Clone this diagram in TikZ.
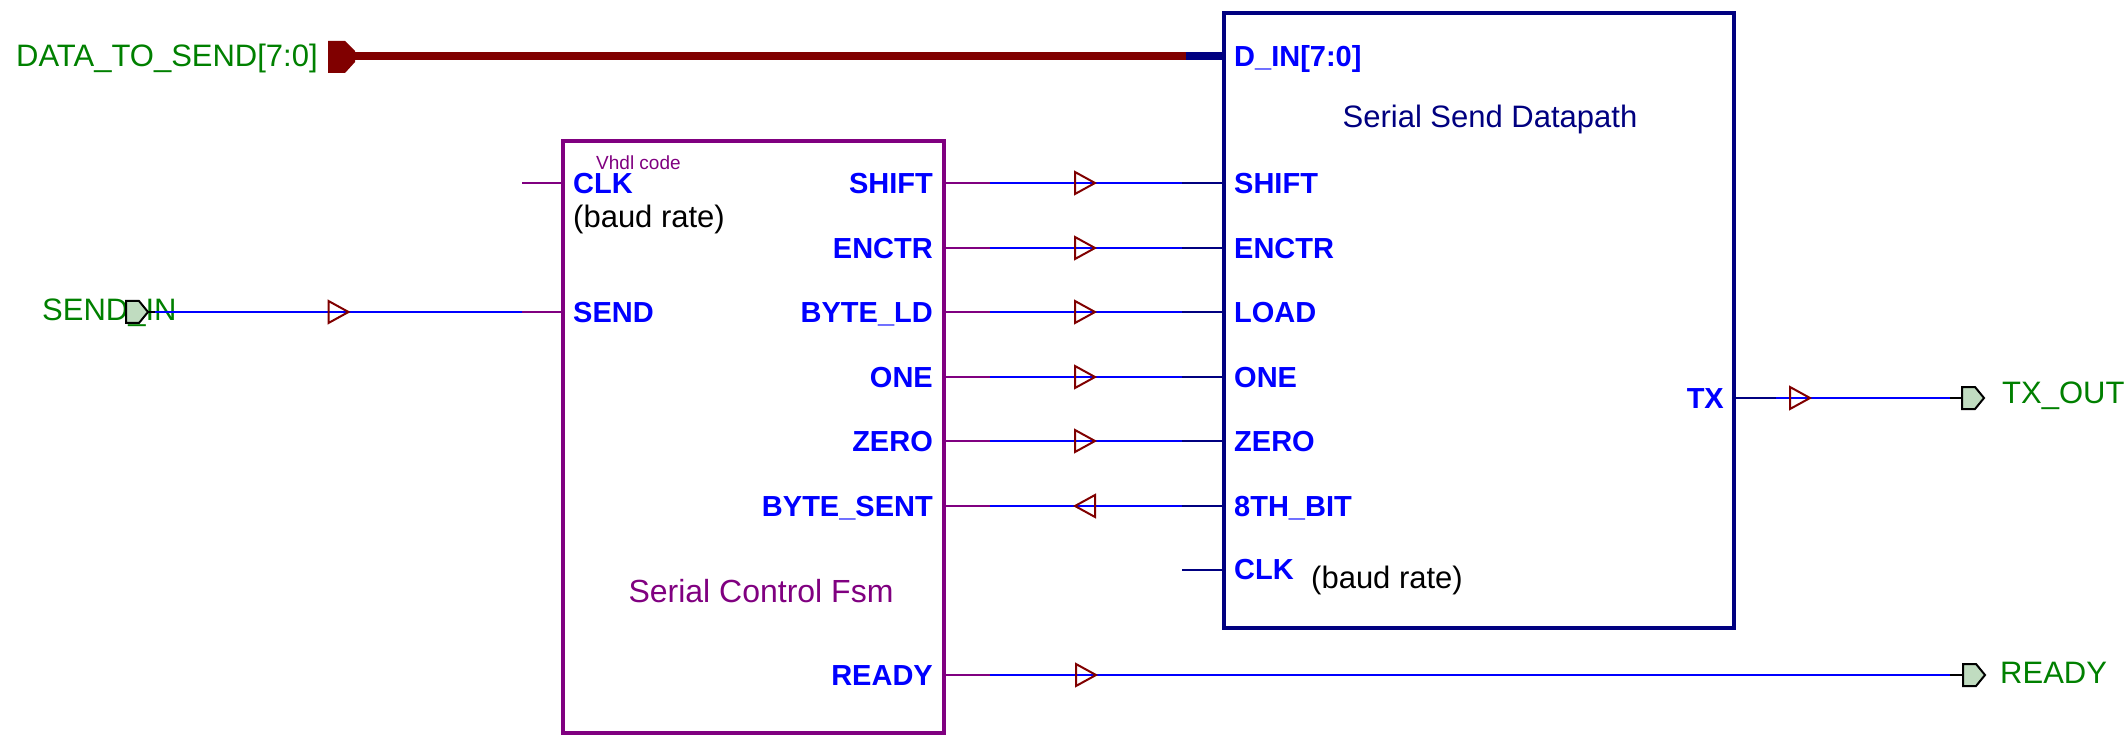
\documentclass[tikz,border=0pt]{standalone}
\usepackage{fontspec}
\setmainfont{Liberation Sans}
\definecolor{navyc}{RGB}{0,0,128}
\definecolor{purplec}{RGB}{128,0,128}
\definecolor{redc}{RGB}{128,0,0}
\definecolor{bluec}{RGB}{0,0,255}
\definecolor{greenc}{RGB}{0,128,0}
\definecolor{portfill}{RGB}{192,220,192}
\begin{document}
\begin{tikzpicture}[x=1pt,y=-1pt,
  fsmbox/.style={draw=purplec,line width=4pt,rectangle,inner sep=0pt,minimum width=381pt,minimum height=592pt},
  dpbox/.style={draw=navyc,line width=4pt,rectangle,inner sep=0pt,minimum width=510pt,minimum height=615pt},
  pinlbl/.style={text=bluec,font=\fontsize{29}{29}\selectfont\bfseries,inner sep=0pt},
  glbl/.style={text=greenc,font=\fontsize{31}{31}\selectfont,inner sep=0pt},
  blbl/.style={text=black,font=\fontsize{31}{31}\selectfont,inner sep=0pt},
  wire/.style={draw=bluec,line width=2pt},
  fsmpin/.style={draw=purplec,line width=2pt},
  dppin/.style={draw=navyc,line width=2pt},
  blackpin/.style={draw=black,line width=2pt},
  redbus/.style={draw=redc,line width=8pt},
  navybus/.style={draw=navyc,line width=8pt},
  fwdtri/.pic={\draw[redc,line width=2pt,line join=miter] (-10,-11) -- (10,0) -- (-10,11) -- cycle;},
  backtri/.pic={\draw[redc,line width=2pt,line join=miter] (10,-11) -- (-10,0) -- (10,11) -- cycle;},
  portmark/.pic={\draw[black,line width=2pt,fill=portfill,line join=miter] (0,-11) -- (13,-11) -- (22,0) -- (13,11) -- (0,11) -- cycle;}
]
\useasboundingbox (0,0) rectangle (2126,735);

% boxes
\node[fsmbox] (fsm) at (753.5,437) {};
\node[dpbox] (dp) at (1479,320.5) {};

% ---------- bus DATA_TO_SEND ----------
\node[glbl,anchor=base west] (dtsl) at (16,67) {DATA\_TO\_SEND[7:0]};
\fill[redc] (328,41) -- (345,41) -- (355,51) -- (355,62) -- (345,73) -- (328,73) -- cycle;
\coordinate (busA) at (354,56.5);
\coordinate (busB) at (1186,56.5);
\coordinate (busC) at (1224,56.5);
\draw[redbus] (busA) -- (busB);
\draw[navybus] (busB) -- (busC);
\node[pinlbl,anchor=base west] (dinl) at (1234,67) {D\_IN[7:0]};
\node[text=navyc,font=\fontsize{31}{31}\selectfont,inner sep=0pt,anchor=base] (dptitle) at (1490,128) {Serial Send Datapath};

% ---------- FSM labels ----------
\node[text=purplec,font=\fontsize{19}{19}\selectfont,inner sep=0pt,anchor=base west] (vhdl) at (596,170) {Vhdl code};
\node[pinlbl,anchor=base west] (fclkl) at (573,193.5) {CLK};
\node[blbl,anchor=base west] (fbaud) at (573,228) {(baud rate)};
\node[pinlbl,anchor=base west] (fsendl) at (573,322.5) {SEND};
\node[text=purplec,font=\fontsize{32}{32}\selectfont,inner sep=0pt,anchor=base] (fsmtitle) at (761,602) {Serial Control Fsm};

\foreach \nm/\yy in {SHIFT/183,ENCTR/248,BYTE\_LD/312,ONE/377,ZERO/441,BYTE\_SENT/506,READY/675}{
  \node[pinlbl,anchor=base east] at (933,\yy+10.5) {\nm};
}
\foreach \nm/\yy in {SHIFT/183,ENCTR/248,LOAD/312,ONE/377,ZERO/441,8TH\_BIT/506}{
  \node[pinlbl,anchor=base west] at (1234,\yy+10.5) {\nm};
}
\node[pinlbl,anchor=base west] (dclkl) at (1234,579) {CLK};
\node[blbl,anchor=base west] (dbaud) at (1311,588) {(baud rate)};
\node[pinlbl,anchor=base east] (txl) at (1724,408.5) {TX};

% ---------- FSM left pins ----------
\coordinate (fclkA) at (522,183);
\coordinate (fclkB) at (563,183);
\draw[fsmpin] (fclkA) -- (fclkB);

\node[glbl,anchor=base west] (sendinl) at (42,321) {SEND\_IN};
\coordinate (sendP) at (126,312);
\coordinate (sendA) at (148,312);
\coordinate (sendB) at (155,312);
\coordinate (sendC) at (522,312);
\coordinate (sendD) at (563,312);
\draw[blackpin] (sendA) -- (sendB);
\draw[wire] (sendB) -- (sendC);
\draw[fsmpin] (sendC) -- (sendD);
\pic at (sendP) {portmark};
\pic at (338.5,312) {fwdtri};

% ---------- FSM -> datapath ----------
\foreach \yy/\tri in {183/fwdtri,248/fwdtri,312/fwdtri,377/fwdtri,441/fwdtri,506/backtri}{
  \coordinate (wA) at (944,\yy);
  \coordinate (wB) at (990,\yy);
  \coordinate (wC) at (1182,\yy);
  \coordinate (wD) at (1224,\yy);
  \draw[fsmpin] (wA) -- (wB);
  \draw[wire] (wB) -- (wC);
  \draw[dppin] (wC) -- (wD);
  \pic at (1085,\yy) {\tri};
}
\coordinate (dclkA) at (1182,570);
\coordinate (dclkB) at (1224,570);
\draw[dppin] (dclkA) -- (dclkB);

% ---------- TX ----------
\coordinate (txA) at (1734,398);
\coordinate (txB) at (1776,398);
\coordinate (txC) at (1950,398);
\coordinate (txP) at (1962,398);
\draw[dppin] (txA) -- (txB);
\draw[wire] (txB) -- (txC);
\draw[blackpin] (txC) -- (txP);
\pic at (1800,398) {fwdtri};
\pic at (txP) {portmark};
\node[glbl,anchor=base west] (txoutl) at (2002,403) {TX\_OUT};

% ---------- READY ----------
\coordinate (rA) at (944,675);
\coordinate (rB) at (990,675);
\coordinate (rC) at (1950,675);
\coordinate (rP) at (1963,675);
\draw[fsmpin] (rA) -- (rB);
\draw[wire] (rB) -- (rC);
\draw[blackpin] (rC) -- (rP);
\pic at (1086,675) {fwdtri};
\pic at (rP) {portmark};
\node[glbl,anchor=base west] (readyl) at (2000,683) {READY};

% redraw boxes on top
\node[fsmbox] at (fsm.center) {};
\node[dpbox] at (dp.center) {};
\end{tikzpicture}
\end{document}
